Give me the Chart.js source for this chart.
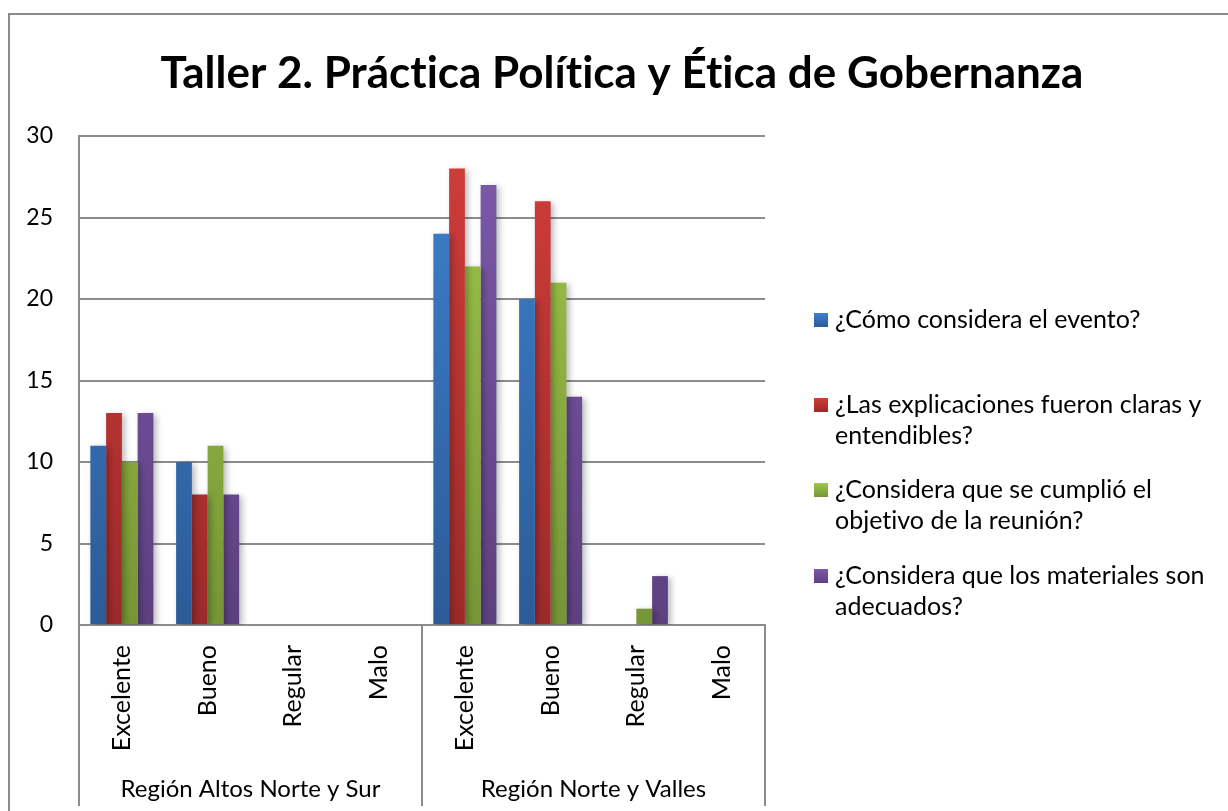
<!DOCTYPE html>
<html>
<head>
<meta charset="utf-8">
<script src="https://cdn.jsdelivr.net/npm/chart.js@4.4.0/dist/chart.umd.min.js"></script>
<style>
  html, body { margin: 0; padding: 0; background: #fff; }
  #wrap { position: relative; width: 1228px; height: 811px; }
</style>
</head>
<body>
<div id="wrap"><canvas id="grafica" width="1228" height="811"></canvas></div>
<script>
// datos
const titulo = "Taller 2. Práctica Política y Ética de Gobernanza";
const categorias = ["Excelente", "Bueno", "Regular", "Malo", "Excelente", "Bueno", "Regular", "Malo"];
const regiones = ["Región Altos Norte y Sur", "Región Norte y Valles"];
const preguntas = [
  "¿Cómo considera el evento?",
  "¿Las explicaciones fueron claras y entendibles?",
  "¿Considera que se cumplió el objetivo de la reunión?",
  "¿Considera que los materiales son adecuados?"
];
const evento = [11, 10, 0, 0, 24, 20, 0, 0];
const explicaciones = [13, 8, 0, 0, 28, 26, 0, 0];
const objetivo = [10, 11, 0, 0, 22, 21, 1, 0];
const materiales = [13, 8, 0, 0, 27, 14, 3, 0];
const ticksY = [0, 5, 10, 15, 20, 25, 30];

const FUENTE = "Lato, 'Open Sans', sans-serif";
const GRIS = "#8c8c8c";

// colores estilo Excel 2007 (arriba claro, abajo oscuro)
const colores = [
  ["#3e81ce", "#2c5b97"],
  ["#d13d3a", "#9c2a2a"],
  ["#9fc84a", "#769536"],
  ["#7d5aaa", "#5d4080"]
];

function degradado(i) {
  return (ctx) => {
    const area = ctx.chart.chartArea;
    if (!area) return colores[i][0];
    const g = ctx.chart.ctx.createLinearGradient(0, area.top, 0, area.bottom);
    g.addColorStop(0, colores[i][0]);
    g.addColorStop(1, colores[i][1]);
    return g;
  };
}

const series = [evento, explicaciones, objetivo, materiales];

// marco exterior y titulo
const marco = {
  id: "marco",
  beforeDraw(chart) {
    const c = chart.ctx;
    c.save();
    c.fillStyle = "#fff";
    c.fillRect(0, 0, chart.width, chart.height);
    c.strokeStyle = GRIS;
    c.lineWidth = 2;
    c.beginPath();
    c.moveTo(9, chart.height);
    c.lineTo(9, 14);
    c.lineTo(chart.width, 14);
    c.stroke();
    c.letterSpacing = "0.01px"; // evita la ligadura "ti" de Lato
    c.fillStyle = "#000";
    c.font = "bold 44px " + FUENTE;
    c.textAlign = "center";
    c.textBaseline = "alphabetic";
    c.fillText(titulo, 622, 88);
    c.restore();
  }
};

// sombra suave de las barras
const sombra = {
  id: "sombra",
  beforeDatasetsDraw(chart) {
    const c = chart.ctx;
    c.save();
    c.shadowColor = "rgba(0,0,0,0.28)";
    c.shadowBlur = 6;
    c.shadowOffsetX = 3;
    c.shadowOffsetY = 2;
  },
  afterDatasetsDraw(chart) {
    chart.ctx.restore();
  }
};

// separadores y nombres de region debajo del eje
const grupos = {
  id: "grupos",
  afterDraw(chart) {
    const c = chart.ctx;
    const x = chart.scales.x;
    const area = chart.chartArea;
    const medio = (x.getPixelForTick(3) + x.getPixelForTick(4)) / 2;
    const bordes = [area.left, medio, area.right];
    c.save();
    c.strokeStyle = GRIS;
    c.lineWidth = 2;
    bordes.forEach((px) => {
      c.beginPath();
      c.moveTo(px, area.bottom);
      c.lineTo(px, 806);
      c.stroke();
    });
    c.fillStyle = "#000";
    c.font = "24px " + FUENTE;
    c.textAlign = "center";
    c.textBaseline = "middle";
    regiones.forEach((r, i) => {
      c.fillText(r, (bordes[i] + bordes[i + 1]) / 2, 789);
    });
    c.restore();
  }
};

// leyenda a la derecha con texto en varias lineas
const leyenda = {
  id: "leyenda",
  afterDraw(chart) {
    const c = chart.ctx;
    const anchoMax = 380;
    const inicios = [320, 405, 490, 576];
    const alto = 31;
    c.save();
    c.letterSpacing = "0.01px";
    c.font = "25px " + FUENTE;
    c.textBaseline = "middle";
    c.textAlign = "left";
    chart.data.datasets.forEach((ds, i) => {
      const palabras = ds.label.split(" ");
      const lineas = [];
      let linea = "";
      palabras.forEach((p) => {
        const prueba = linea ? linea + " " + p : p;
        if (c.measureText(prueba).width > anchoMax && linea) {
          lineas.push(linea);
          linea = p;
        } else {
          linea = prueba;
        }
      });
      lineas.push(linea);
      const y0 = inicios[i];
      const g = c.createLinearGradient(0, y0 - 7, 0, y0 + 7);
      g.addColorStop(0, colores[i][0]);
      g.addColorStop(1, colores[i][1]);
      c.fillStyle = g;
      c.fillRect(814, y0 - 7, 14, 14);
      c.fillStyle = "#000";
      lineas.forEach((l, k) => c.fillText(l, 835, y0 + k * alto));
    });
    c.restore();
  }
};

new Chart(document.getElementById("grafica"), {
  type: "bar",
  data: {
    labels: categorias,
    datasets: series.map((d, i) => ({
      label: preguntas[i],
      data: d,
      backgroundColor: degradado(i),
      borderWidth: 0,
      categoryPercentage: 0.735,
      barPercentage: 1
    }))
  },
  options: {
    responsive: false,
    animation: false,
    devicePixelRatio: 1,
    layout: { padding: { left: 0, right: 463, top: 136, bottom: 0 } },
    plugins: {
      legend: { display: false },
      tooltip: { enabled: false },
      title: { display: false }
    },
    scales: {
      x: {
        grid: { display: false, drawTicks: false },
        border: { display: true, color: GRIS, width: 2 },
        ticks: {
          color: "#000",
          font: { family: FUENTE, size: 25 },
          minRotation: 90,
          maxRotation: 90,
          autoSkip: false,
          padding: 20
        },
        afterFit(s) { s.height = 186; }
      },
      y: {
        min: 0,
        max: 30,
        afterBuildTicks(s) { s.ticks = ticksY.map((v) => ({ value: v })); },
        grid: { color: GRIS, lineWidth: 2, drawTicks: false },
        border: { display: true, color: GRIS, width: 2 },
        ticks: {
          color: "#000",
          font: { family: FUENTE, size: 23 },
          padding: 26
        },
        afterFit(s) { s.width = 79; }
      }
    }
  },
  plugins: [marco, sombra, grupos, leyenda]
});
</script>
</body>
</html>
